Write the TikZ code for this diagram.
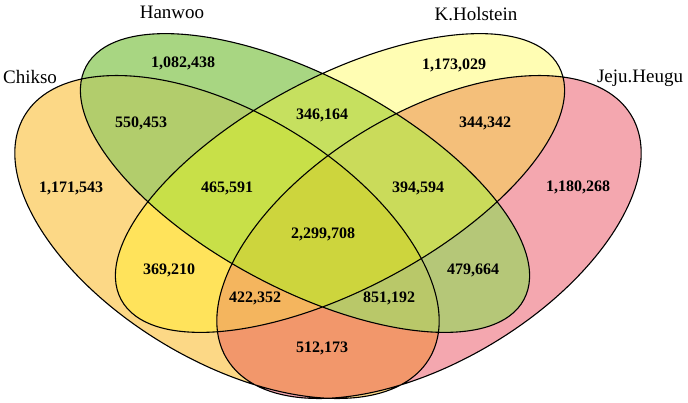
\documentclass[tikz,border=0pt]{standalone}
\usepackage{fontspec}
\setmainfont{Liberation Serif}
\definecolor{cA}{HTML}{FCD886}
\definecolor{cB}{HTML}{A8D682}
\definecolor{cC}{HTML}{FFFDB3}
\definecolor{cD}{HTML}{F4A7AF}
\definecolor{cAB}{HTML}{B2CD6C}
\definecolor{cAC}{HTML}{FFE35B}
\definecolor{cAD}{HTML}{F2976B}
\definecolor{cBC}{HTML}{C6E05F}
\definecolor{cBD}{HTML}{B5C778}
\definecolor{cCD}{HTML}{F4BF7A}
\definecolor{cABC}{HTML}{C8E048}
\definecolor{cABD}{HTML}{B9C869}
\definecolor{cACD}{HTML}{F4B55E}
\definecolor{cBCD}{HTML}{CADB5A}
\definecolor{cABCD}{HTML}{CDD53D}
\begin{document}
\begin{tikzpicture}[x=1pt, y=1pt,
		count/.style={font=\fontsize{16}{18}\selectfont\bfseries},
		breed/.style={font=\fontsize{19}{22}\selectfont}]
		\useasboundingbox (0,0) rectangle (688,-402);
		\def\chikso{(227,-237) ellipse [x radius=236, y radius=124, rotate=-31]}
		\def\hanwoo{(305,-183) ellipse [x radius=248, y radius=106, rotate=-28]}
		\def\holstein{(340,-183) ellipse [x radius=248, y radius=106, rotate=28]}
		\def\jeju{(429,-237) ellipse [x radius=236, y radius=124, rotate=31]}
		\fill[cA] \chikso;
		\fill[cD] \jeju;
		\fill[cB] \hanwoo;
		\fill[cC] \holstein;
		\begin{scope}
		\clip \chikso;
		\fill[cAB] \hanwoo;
		\fill[cAC] \holstein;
		\fill[cAD] \jeju;
		\end{scope}
		\begin{scope}
		\clip \hanwoo;
		\fill[cBC] \holstein;
		\fill[cBD] \jeju;
		\end{scope}
		\begin{scope}
		\clip \holstein;
		\fill[cCD] \jeju;
		\end{scope}
		\begin{scope}
		\clip \chikso; \clip \hanwoo;
		\fill[cABC] \holstein;
		\fill[cABD] \jeju;
		\end{scope}
		\begin{scope}
		\clip \chikso; \clip \holstein;
		\fill[cACD] \jeju;
		\end{scope}
		\begin{scope}
		\clip \hanwoo; \clip \holstein;
		\fill[cBCD] \jeju;
		\end{scope}
		\begin{scope}
		\clip \chikso; \clip \hanwoo; \clip \holstein;
		\fill[cABCD] \jeju;
		\end{scope}
		\draw[line width=1.1pt] \chikso \jeju \hanwoo \holstein;
		\foreach \name/\x/\y/\num in {a/71/188/{1,171,543}, b/183/63/{1,082,438},
			c/454/65/{1,173,029}, d/578/187/{1,180,268}, ab/141/123/{550,453},
			ac/169/270/{369,210}, ad/322/348/{512,173}, bc/322/115/{346,164},
			bd/473/270/{479,664}, cd/485/123/{344,342}, abc/227/188/{465,591},
			abd/389/298/{851,192}, acd/255/298/{422,352}, bcd/418/188/{394,594},
			abcd/323/234/{2,299,708}}{
			\node[count] (n-\name) at (\x, -\y) {\num};}
		\foreach \name/\x/\y/\txt in {chikso/30/77/Chikso, hanwoo/172/12/Hanwoo,
			holstein/476/14/K.Holstein, jeju/640/78/Jeju.Heugu}{
			\node[breed] (l-\name) at (\x, -\y) {\txt};}
		\end{tikzpicture}
\end{document}
